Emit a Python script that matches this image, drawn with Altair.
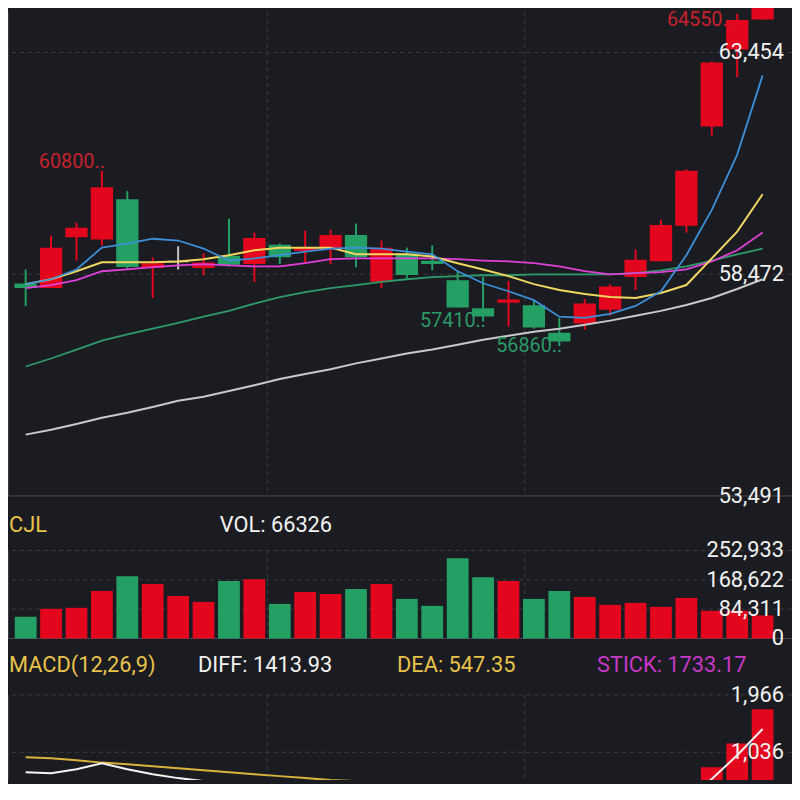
import altair as alt
import pandas as pd

# ---------------- data ----------------
idx = list(range(30))
opens = [58250, 58180, 59320, 59270, 60140, 58630, 58760, 58630, 58870, 58720,
         59120, 59010, 59050, 59340, 58320, 58920, 58760, 58320, 57690, 57850,
         57760, 57140, 57380, 57690, 58430, 58780, 59580, 61810, 63540, 64210]
closes = [58180, 59050, 59500, 60410, 58650, 58700, 58760, 58720, 58700, 59270,
          58870, 59070, 59340, 58870, 59050, 58470, 58720, 57740, 57540, 57890,
          57290, 56980, 57800, 58180, 58780, 59560, 60780, 63210, 64170, 64480]
highs = [58580, 59340, 59630, 60800, 60340, 58850, 59100, 58940, 59720, 59410,
         59160, 59450, 59470, 59610, 59230, 59070, 59120, 58540, 58410, 58320,
         57870, 57490, 57920, 58250, 59030, 59700, 60830, 63250, 64320, 64550]
lows = [57760, 58160, 58780, 59120, 58600, 57940, 58580, 58450, 58650, 58300,
        58700, 58720, 58700, 58630, 58160, 58380, 58560, 57730, 57410, 57300,
        57250, 56860, 57230, 57540, 58120, 58760, 59410, 61590, 62900, 64190]
volumes = [62500, 85300, 88100, 136400, 179000, 156300, 122200, 105200, 164800, 170500,
           99500, 133600, 127900, 142100, 156300, 113700, 93800, 230200, 176200, 164800,
           113700, 136400, 119400, 96600, 102300, 90900, 116500, 79600, 79600, 66326]

ma5 = [58250, 58360, 58580, 59070, 59160, 59270, 59230, 59050, 58780, 58830,
       58900, 58980, 59050, 59070, 59050, 58980, 58920, 58540, 58270, 58090,
       57890, 57520, 57490, 57580, 57760, 58090, 58900, 59920, 61160, 62940]
ma10 = [58250, 58360, 58540, 58740, 58740, 58740, 58760, 58810, 58900, 59010,
        59070, 59070, 59070, 58920, 58920, 58920, 58870, 58720, 58580, 58430,
        58250, 58120, 58030, 57960, 57940, 58050, 58230, 58830, 59430, 60270]
ma20 = [58160, 58230, 58340, 58540, 58580, 58630, 58670, 58700, 58670, 58650,
        58650, 58720, 58810, 58830, 58830, 58830, 58830, 58810, 58780, 58760,
        58720, 58650, 58540, 58470, 58500, 58520, 58580, 58760, 59010, 59410]
ma30 = [56400, 56580, 56780, 56980, 57120, 57250, 57380, 57520, 57650, 57810,
        57960, 58070, 58160, 58230, 58300, 58360, 58410, 58430, 58450, 58450,
        58470, 58470, 58470, 58470, 58500, 58560, 58650, 58780, 58920, 59050]
ma60 = [54870, 54980, 55110, 55250, 55360, 55490, 55630, 55720, 55850, 55980,
        56120, 56230, 56340, 56470, 56580, 56690, 56780, 56890, 57000, 57090,
        57180, 57250, 57340, 57430, 57540, 57650, 57780, 57940, 58140, 58360]

diff = [715, 699, 763, 860, 763, 683, 619, 571, 539, 539,
        507, 475, 475, 443, 395, 363, 299, 235, 138, 42,
        -54, -150, -214, -214, -150, -22, 300, 603, 990, 1413.93]
dea = [956, 940, 908, 870, 844, 812, 780, 747, 715, 683,
       651, 619, 587, 571, 539, 507, 475, 427, 379, 331,
       283, 218, 154, 106, 74, 74, 122, 202, 400, 547.35]
stick = [-482, -482, -290, -32, -162, -258, -322, -352, -352, -288,
         -288, -288, -224, -256, -288, -288, -352, -384, -482, -578,
         -674, -736, -736, -640, -448, -192, 363, 796, 1180, 1733.17]

price_ticks = [63454, 58472, 53491]
vol_ticks = [252933, 168622, 84311, 0]
macd_ticks = [1966, 1036]

ext_idx = [3, 18, 21, 29]
ext_price = [60800, 57410, 56860, 64550]
ext_label = ["60800..", "57410..", "56860..", "64550.."]
ext_kind = ["hi", "lo", "lo", "top"]

# ---------------- styles ----------------
W, H = 792, 776
BG = "#1b1c21"
RED = "#e3061c"
GREEN = "#24a064"
GREY = "#c4c4c4"
GRID = "#3a3c43"
GRID2 = "#4a4c53"
FONT = "Roboto"

df = pd.DataFrame({"i": idx, "open": opens, "close": closes, "high": highs, "low": lows,
                   "vol": volumes, "ma5": ma5, "ma10": ma10, "ma20": ma20, "ma30": ma30,
                   "ma60": ma60, "diff": diff, "dea": dea, "stick": stick})
df["dir"] = ["up" if c > o else ("down" if c < o else "flat") for o, c in zip(opens, closes)]
df["vdir"] = ["up" if c >= o else "down" for o, c in zip(opens, closes)]
df["sdir"] = ["up" if s >= 0 else "down" for s in stick]

X = alt.X("i:Q", scale=alt.Scale(domain=[-0.5, 29.9615], range=[0, W], nice=False, zero=False), axis=None)


def ysc(dom, rng):
    return alt.Scale(domain=dom, range=rng, nice=False, zero=False)


PS = ysc([53491, 63454], [489, 41])
VS = ysc([0, 252933], [633, 544])
MS = ysc([1036, 1966], [748, 690])

cscale = alt.Scale(domain=["up", "down", "flat"], range=[RED, GREEN, GREY])


def col(field):
    return alt.Color(f"{field}:N", scale=cscale, legend=None)


one = pd.DataFrame({"a": [0]})
base = alt.Chart(df)


def vgrid(y0, y1):
    return [alt.Chart(one).mark_rule(color=GRID, strokeDash=[4, 4], strokeWidth=1).encode(
        x=alt.value(xv), y=alt.value(y0), y2=alt.value(y1)) for xv in (262, 522)] + [
        alt.Chart(one).mark_rule(color=GRID, strokeWidth=1).encode(
            x=alt.value(0.5), y=alt.value(y0), y2=alt.value(y1))]


def hgrid(values, scale, solid_last):
    d = pd.DataFrame({"v": values})
    dashed = d.iloc[:-1] if solid_last else d
    layers = [alt.Chart(dashed).mark_rule(color=GRID, strokeDash=[4, 4], strokeWidth=1).encode(
        y=alt.Y("v:Q", scale=scale, axis=None))]
    if solid_last:
        layers.append(alt.Chart(d.iloc[-1:]).mark_rule(color=GRID2, strokeWidth=1).encode(
            y=alt.Y("v:Q", scale=scale, axis=None)))
    return layers


def tick_labels(values, scale):
    d = pd.DataFrame({"v": values, "label": [f"{v:,}" for v in values]})
    return alt.Chart(d).mark_text(align="right", baseline="middle", fontSize=22, font=FONT,
                                  color="#f2f2f2").encode(
        x=alt.value(784), y=alt.Y("v:Q", scale=scale, axis=None), text="label:N")


# ---------------- price panel ----------------
wick = base.mark_rule(strokeWidth=2).encode(
    x=X, y=alt.Y("low:Q", scale=PS, axis=None), y2="high:Q", color=col("dir"))
body = base.mark_bar(size=21, strokeWidth=1.5).encode(
    x=X, y=alt.Y("open:Q", scale=PS, axis=None), y2="close:Q", color=col("dir"),
    stroke=alt.Stroke("dir:N", scale=cscale, legend=None))

ma_specs = [("ma60", "#c9c9cd", 2.0), ("ma30", "#2f9b6c", 1.8), ("ma20", "#e040d8", 1.8),
            ("ma10", "#f0d860", 2.0), ("ma5", "#3d8fd8", 1.8)]
ma_lines = [base.mark_line(color=c, strokeWidth=w).encode(
    x=X, y=alt.Y(f"{m}:Q", scale=PS, axis=None)) for m, c, w in ma_specs]

ext = pd.DataFrame({"i": ext_idx, "p": ext_price, "label": ext_label, "kind": ext_kind})
hi_lab = alt.Chart(ext).transform_filter("datum.kind == 'hi'").mark_text(
    align="right", baseline="alphabetic", dx=3, dy=-3, fontSize=20, font=FONT, color="#c8202c").encode(
    x=X, y=alt.Y("p:Q", scale=PS, axis=None), text="label:N")
top_lab = alt.Chart(ext).transform_filter("datum.kind == 'top'").mark_text(
    align="right", baseline="top", dx=-30, dy=7, fontSize=20, font=FONT, color="#c8202c").encode(
    x=X, y=alt.Y("p:Q", scale=PS, axis=None), text="label:N")
lo_lab = alt.Chart(ext).transform_filter("datum.kind == 'lo'").mark_text(
    align="right", baseline="middle", dx=3, fontSize=20, font=FONT, color="#2a9a66").encode(
    x=X, y=alt.Y("p:Q", scale=PS, axis=None), text="label:N")

price = alt.layer(*vgrid(0, 489), *hgrid(price_ticks, PS, True), wick, body, *ma_lines,
                  hi_lab, top_lab, lo_lab, tick_labels(price_ticks, PS))

# ---------------- volume panel ----------------
vbars = base.mark_bar(size=22).encode(
    x=X, y=alt.Y("vol:Q", scale=VS, axis=None), y2=alt.datum(0), color=col("vdir"))
vol = alt.layer(*vgrid(544, 633), *hgrid(vol_ticks, VS, True), vbars, tick_labels(vol_ticks, VS))

# ---------------- MACD panel ----------------
sbars = base.mark_bar(size=22, clip=True).encode(
    x=X, y=alt.Y("stick:Q", scale=MS, axis=None), y2=alt.datum(0), color=col("sdir"))
dea_line = base.mark_line(color="#d9b43c", strokeWidth=2, clip=True).encode(
    x=X, y=alt.Y("dea:Q", scale=MS, axis=None))
diff_line = base.mark_line(color="#f4f4f4", strokeWidth=2, clip=True).encode(
    x=X, y=alt.Y("diff:Q", scale=MS, axis=None))
macd = alt.layer(*vgrid(690, H), *hgrid(macd_ticks, MS, False), sbars, dea_line, diff_line,
                 tick_labels(macd_ticks, MS))


# ---------------- header texts ----------------
def head(text, x, y, color):
    return alt.Chart(one).mark_text(align="left", baseline="middle", fontSize=22, font=FONT,
                                    color=color).encode(x=alt.value(x), y=alt.value(y),
                                                        text=alt.value(text))


heads = [
    head("CJL", 1, 518, "#e8c34a"),
    head(f"VOL: {volumes[-1]}", 214, 518, "#f2f2f2"),
    head("MACD(12,26,9)", 1, 660, "#e8c34a"),
    head(f"DIFF: {diff[-1]:.2f}", 192, 660, "#f2f2f2"),
    head(f"DEA: {dea[-1]:.2f}", 393, 660, "#e8c34a"),
    head(f"STICK: {stick[-1]:.2f}", 595, 660, "#c838c8"),
]

chart = alt.layer(price, vol, macd, *heads).resolve_scale(y="independent").properties(
    width=W, height=H, autosize=alt.AutoSizeParams(type="none"), padding=0, background=BG
).configure_view(stroke=None)

chart.save("out.html", embed_options={"renderer": "svg", "actions": False})
